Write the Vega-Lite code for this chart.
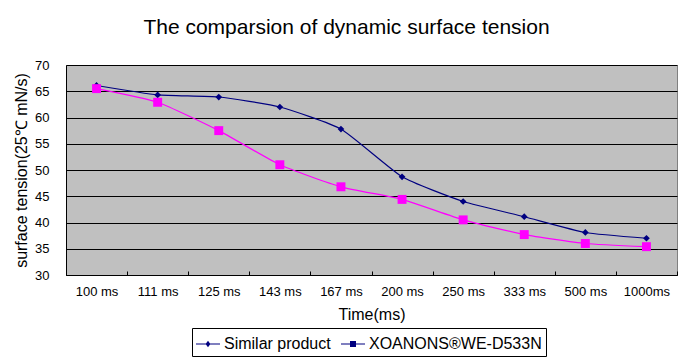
{
  "$schema": "https://vega.github.io/schema/vega-lite/v6.json",
  "autosize": {"type": "none"},
  "width": 611,
  "height": 210,
  "padding": {"left": 66, "top": 65, "right": 18, "bottom": 87},
  "background": "white",
  "title": {
    "text": "The comparsion of dynamic surface tension",
    "font": "Liberation Sans",
    "fontSize": 21,
    "fontWeight": "normal",
    "color": "black",
    "anchor": "middle",
    "frame": "group",
    "dx": -25,
    "offset": 21
  },
  "config": {
    "font": "Liberation Sans",
    "view": {"fill": "#C0C0C0", "stroke": "#808080", "strokeWidth": 1}
  },
  "data": {
    "values": [
      {"time": "100 ms", "series": "Similar product", "value": 66.1},
      {"time": "111 ms", "series": "Similar product", "value": 64.3},
      {"time": "125 ms", "series": "Similar product", "value": 63.9},
      {"time": "143 ms", "series": "Similar product", "value": 62.0},
      {"time": "167 ms", "series": "Similar product", "value": 57.8},
      {"time": "200 ms", "series": "Similar product", "value": 48.7},
      {"time": "250 ms", "series": "Similar product", "value": 44.0},
      {"time": "333 ms", "series": "Similar product", "value": 41.1},
      {"time": "500 ms", "series": "Similar product", "value": 38.1},
      {"time": "1000ms", "series": "Similar product", "value": 37.0},
      {"time": "100 ms", "series": "XOANONS®WE-D533N", "value": 65.5},
      {"time": "111 ms", "series": "XOANONS®WE-D533N", "value": 62.9},
      {"time": "125 ms", "series": "XOANONS®WE-D533N", "value": 57.5},
      {"time": "143 ms", "series": "XOANONS®WE-D533N", "value": 51.0},
      {"time": "167 ms", "series": "XOANONS®WE-D533N", "value": 46.8},
      {"time": "200 ms", "series": "XOANONS®WE-D533N", "value": 44.4},
      {"time": "250 ms", "series": "XOANONS®WE-D533N", "value": 40.5},
      {"time": "333 ms", "series": "XOANONS®WE-D533N", "value": 37.7},
      {"time": "500 ms", "series": "XOANONS®WE-D533N", "value": 36.0},
      {"time": "1000ms", "series": "XOANONS®WE-D533N", "value": 35.4}
    ]
  },
  "encoding": {
    "x": {
      "field": "time",
      "type": "nominal",
      "sort": null,
      "bandPosition": 0.5,
      "scale": {"type": "band", "paddingInner": 0, "paddingOuter": 0},
      "axis": {
        "title": "Time(ms)",
        "titleFont": "Liberation Sans",
        "titleFontSize": 16,
        "titleFontWeight": "normal",
        "titleColor": "black",
        "titlePadding": 8,
        "labelAngle": 0,
        "labelFont": "Liberation Sans",
        "labelFontSize": 13,
        "labelColor": "black",
        "labelPadding": 14,
        "tickBand": "extent",
        "tickSize": -4,
        "tickColor": "black",
        "domainColor": "black",
        "grid": false
      }
    },
    "y": {
      "field": "value",
      "type": "quantitative",
      "scale": {"domain": [30, 70], "nice": false, "zero": false},
      "axis": {
        "title": "surface tension(25℃ mN/s)",
        "titleFont": "Liberation Sans",
        "titleFontSize": 16,
        "titleFontWeight": "normal",
        "titleColor": "black",
        "titlePadding": 5,
        "values": [30, 35, 40, 45, 50, 55, 60, 65, 70],
        "labelFont": "Liberation Sans",
        "labelFontSize": 13,
        "labelColor": "black",
        "labelPadding": 17,
        "ticks": false,
        "domainColor": "black",
        "grid": true,
        "gridColor": "black",
        "gridOpacity": 1,
        "gridWidth": 1
      }
    }
  },
  "layer": [
    {
      "mark": {"type": "line", "interpolate": "cardinal", "tension": 0.5, "strokeWidth": 1.2},
      "encoding": {
        "color": {
          "field": "series",
          "type": "nominal",
          "scale": {"domain": ["Similar product", "XOANONS®WE-D533N"], "range": ["#000080", "#FF00FF"]},
          "legend": null
        }
      }
    },
    {
      "mark": {"type": "point", "filled": true, "opacity": 1},
      "encoding": {
        "color": {
          "field": "series",
          "type": "nominal",
          "scale": {"domain": ["Similar product", "XOANONS®WE-D533N"], "range": ["#000080", "#FF00FF"]},
          "legend": null
        },
        "shape": {
          "field": "series",
          "type": "nominal",
          "scale": {"domain": ["Similar product", "XOANONS®WE-D533N"], "range": ["diamond", "square"]},
          "legend": null
        },
        "size": {
          "field": "series",
          "type": "nominal",
          "scale": {"domain": ["Similar product", "XOANONS®WE-D533N"], "range": [45, 80]},
          "legend": null
        }
      }
    },
    {
      "mark": {"type": "point", "filled": true, "opacity": 0},
      "encoding": {
        "fill": {
          "field": "series",
          "type": "nominal",
          "scale": {"domain": ["Similar product", "XOANONS®WE-D533N"], "range": ["#000080", "#FF00FF"]},
          "legend": {
            "title": null,
            "orient": "none",
            "legendX": 126,
            "legendY": 263,
            "direction": "horizontal",
            "strokeColor": "black",
            "fillColor": "white",
            "padding": 4,
            "labelFont": "Liberation Sans",
            "labelFontSize": 16,
            "labelColor": "black",
            "labelLimit": 400,
            "labelOffset": 4,
            "symbolSize": 576,
            "symbolOpacity": 1,
            "symbolFillColor": "#000080",
            "symbolStrokeWidth": 0,
            "columnPadding": 10
          }
        },
        "shape": {
          "field": "series",
          "type": "nominal",
          "scale": {
            "domain": ["Similar product", "XOANONS®WE-D533N"],
            "range": [
              "M-1,-0.045L1,-0.045L1,0.045L-1,0.045Z M0,-0.27L0.2,0L0,0.27L-0.2,0Z",
              "M-1,-0.045L1,-0.045L1,0.045L-1,0.045Z M-0.25,-0.25L0.25,-0.25L0.25,0.25L-0.25,0.25Z"
            ]
          },
          "legend": {
            "title": null,
            "orient": "none",
            "legendX": 126,
            "legendY": 263,
            "direction": "horizontal",
            "strokeColor": "black",
            "fillColor": "white",
            "padding": 4,
            "labelFont": "Liberation Sans",
            "labelFontSize": 16,
            "labelColor": "black",
            "labelLimit": 400,
            "labelOffset": 4,
            "symbolSize": 576,
            "symbolOpacity": 1,
            "symbolFillColor": "#000080",
            "symbolStrokeWidth": 0,
            "columnPadding": 10
          }
        }
      }
    }
  ],
  "resolve": {"scale": {"shape": "independent"}}
}
